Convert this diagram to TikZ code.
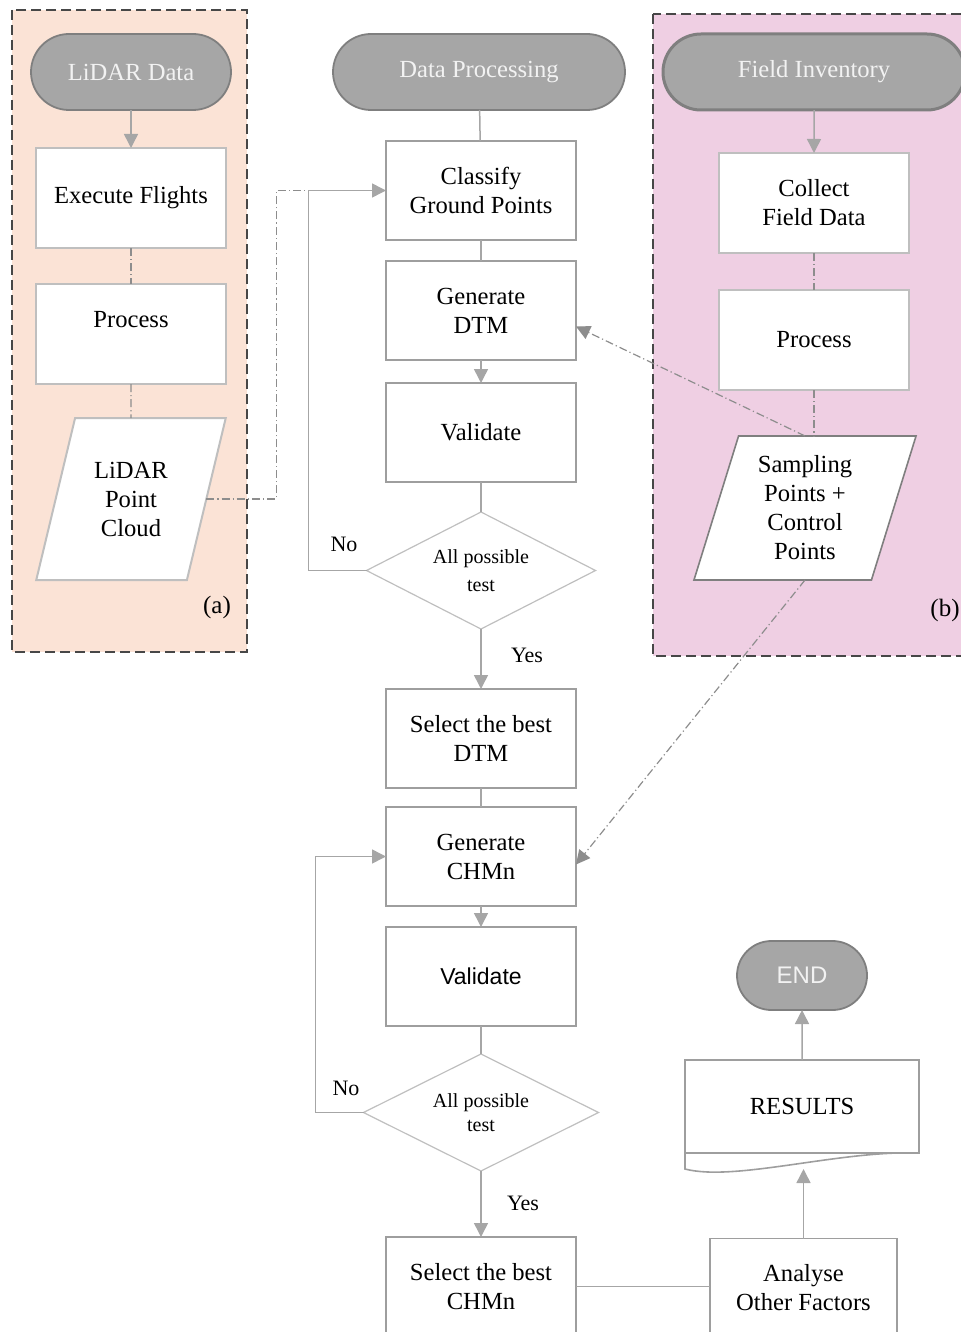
\documentclass[tikz,border=0pt]{standalone}
\usepackage{fontspec}
\setmainfont{Liberation Serif}
\newfontfamily\arialfont{Liberation Sans}
\usepackage{tikz}
\usetikzlibrary{positioning, shapes.geometric, shapes.misc, arrows.meta}

\definecolor{termfill}{RGB}{166,166,166}
\definecolor{termline}{RGB}{127,127,127}
\definecolor{panelA}{RGB}{251,227,214}
\definecolor{panelB}{RGB}{239,207,227}
\definecolor{lightline}{RGB}{191,191,191}
\definecolor{midline}{RGB}{158,158,158}
\definecolor{conn}{RGB}{166,166,166}

\begin{document}
\begin{tikzpicture}[
  x=0.5pt, y=-0.5pt,
  font=\fontsize{12.3}{14.5}\selectfont,
  >={Triangle[length=7pt,width=7pt]},
  every node/.style={align=center, inner sep=2pt, outer sep=0pt},
  panel/.style   ={draw=black!72, dash pattern=on 5pt off 2.5pt, line width=1pt},
  term/.style    ={rounded rectangle, draw=termline, fill=termfill, line width=0.9pt,
                   text=white!95!black, minimum height=38pt},
  boxa/.style    ={draw=lightline, fill=white, line width=1pt,
                   minimum width=95pt, minimum height=50pt},
  boxc/.style    ={draw=midline, fill=white, line width=0.8pt,
                   minimum width=95pt, minimum height=49.5pt},
  para/.style    ={trapezium, trapezium stretches=true, draw=lightline, fill=white, line width=1pt},
  decide/.style  ={diamond, aspect=2, draw=lightline, line width=0.6pt, inner sep=0pt,
                   font=\fontsize{10}{14}\selectfont},
  lbl/.style     ={font=\fontsize{11}{13}\selectfont},
  tag/.style     ={font=\fontsize{12.5}{14}\selectfont},
  arr/.style     ={->, draw=conn, line width=0.75pt},
  link/.style    ={draw=conn, line width=0.75pt},
  dashlink/.style={draw=conn!85!black, line width=0.6pt,
                   dash pattern=on 4pt off 1.5pt on 0.6pt off 1.5pt},
  docline/.style ={draw=midline, line width=0.8pt},
]
\useasboundingbox (0,0) rectangle (961,1332);
\clip (0,0) rectangle (961,1332);

% ---- Panels (a) and (b) ---------------------------------------------------
\draw[panel, fill=panelA] (12,10) rectangle (247,652);
\draw[panel, fill=panelB] (653,14) rectangle (975,656);

% ---- (a) LiDAR branch -------------------------------------------------------
\node[term, minimum width=104pt]      (lidar)   at (131,72) {LiDAR Data};
\node[boxa, below=19pt of lidar]      (flights) {Execute Flights};
\node[boxa, below=18pt of flights]    (procA)   {Process\\\mbox{}};
\node[para, trapezium left angle=71, trapezium right angle=109,
      minimum width=95pt, minimum height=81pt,
      below=17pt of procA]            (cloud)   {LiDAR\\Point\\Cloud};
\node[tag]                            (tagA)    at (217,607) {(a)};

\draw[arr]      (lidar)   -- (flights);
\draw[dashlink] (flights) -- (procA);
\draw[dashlink] (procA)   -- (cloud);

% ---- (b) Field branch -------------------------------------------------------
\node[term, minimum width=155pt, line width=1.5pt] (field) at (814,72) {Field Inventory};
\node[boxa, below=21.5pt of field]    (collect) {Collect\\Field Data};
\node[boxa, below=18.5pt of collect]  (procB)   {Process};
\node[para, trapezium left angle=73, trapezium right angle=107,
      minimum width=112pt, minimum height=72pt,
      draw=termline, line width=0.8pt] (samp)   at (805,508) {Sampling\\Points +\\Control\\Points};
\node[tag]                            (tagB)    at (945,610) {(b)};

\draw[arr]      (field)   -- (collect);
\draw[dashlink] (collect) -- (procB);
\draw[dashlink] (procB.south) -- (procB.south |- samp.north);

% ---- Centre column: DTM then CHMn -------------------------------------------
\node[term, minimum width=150pt]      (dproc)    at (479,72) {Data Processing};
\node[boxc]                           (classify) at (481,190.5) {Classify\\Ground Points};
\node[boxc, below=10.5pt of classify] (gendtm)   {Generate\\DTM};
\node[boxc, below=11.5pt of gendtm]   (valdtm)   {Validate};
\node[decide, minimum width=114.5pt, minimum height=58.5pt,
      below=15pt of valdtm]           (testdtm)  {All possible\\test};
\node[boxc, below=30pt of testdtm]    (bestdtm)  {Select the best\\DTM};
\node[boxc, below=9.5pt of bestdtm]   (genchm)   {Generate\\CHMn};
\node[boxc, below=10.5pt of genchm,
      font=\arialfont\fontsize{11.5}{14}\selectfont] (valchm) {Validate};
\node[decide, minimum width=117.5pt, minimum height=58.5pt,
      font=\fontsize{10}{12}\selectfont,
      below=14pt of valchm]           (testchm)  {All possible\\test};
\node[boxc, below=33pt of testchm]    (bestchm)  {Select the best\\CHMn};

\node[lbl] (noA)  at (344,544)  {No};
\node[lbl] (yesA) at (527,655)  {Yes};
\node[lbl] (noB)  at (346,1088) {No};
\node[lbl] (yesB) at (523,1203) {Yes};

\draw[link] (dproc)    -- (classify);
\draw[link] (classify) -- (gendtm);
\draw[arr]  (gendtm)   -- (valdtm);
\draw[link] (valdtm)   -- (testdtm);
\draw[arr]  (testdtm)  -- (bestdtm);
\draw[link] (bestdtm)  -- (genchm);
\draw[arr]  (genchm)   -- (valchm);
\draw[link] (valchm)   -- (testchm);
\draw[arr]  (testchm)  -- (bestchm);

% loops back on a failed test
\draw[dashlink] (cloud.east) -- ++(70,0) |- (classify.west);
\draw[arr] (testdtm.west) -- ++(-58,0) |- (classify.west);
\draw[arr] (testchm.west) -- ++(-48,0) |- (genchm.west);

% field points feed both models
\draw[dashlink, ->] (samp.north) -- ([yshift=-8pt]gendtm.east);
\draw[dashlink, ->] (samp.south) -- ([yshift=-4pt]genchm.east);

% ---- Results and end --------------------------------------------------------
\node[boxc, minimum width=93.5pt]     (analyse) at (803.5,1288) {Analyse\\Other Factors};
\node[boxc, minimum width=117pt, minimum height=46.5pt] (results) at (802,1106.5) {RESULTS};
\node[term, minimum width=69pt, minimum height=34.5pt,
      font=\arialfont\fontsize{12}{14}\selectfont] (endnode) at (802,975.5) {END};

\draw[docline] (results.south west) -- ++(0,16)
  .. controls +(50,13) and +(-79,-3) .. (results.south east);
\coordinate (resbot) at ([yshift=-8pt]results.south);

\draw[link] (bestchm.east)  -- (bestchm.east -| analyse.west);
\draw[arr]  (analyse.north) -- (analyse.north |- resbot);
\draw[arr]  (results)       -- (endnode);
\end{tikzpicture}
\end{document}
